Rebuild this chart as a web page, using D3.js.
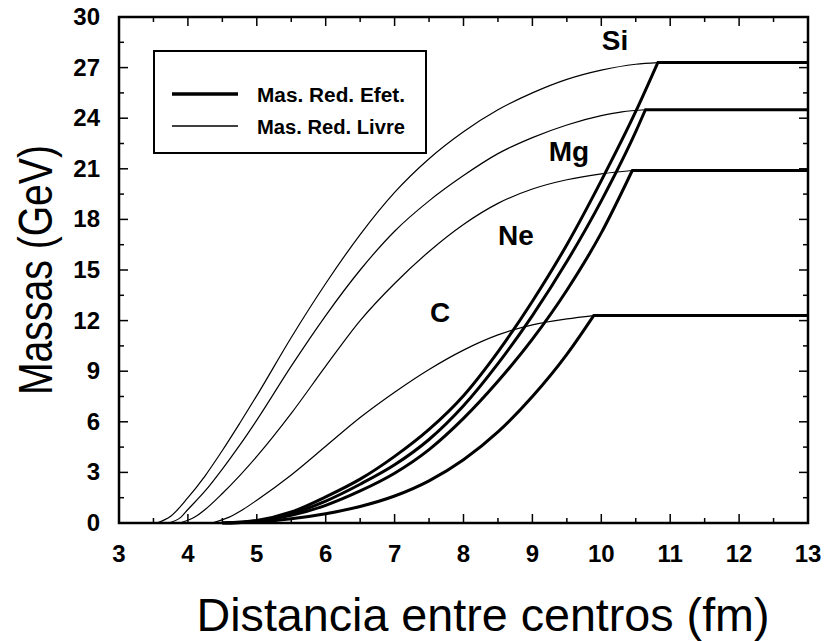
<!DOCTYPE html>
<html>
<head>
<meta charset="utf-8">
<script src="https://d3js.org/d3.v7.min.js"></script>
<style>
  body { margin: 0; background: #fff; }
  text { font-family: "Liberation Sans Narrow", "Liberation Sans", Arial, sans-serif; fill: #000; }
</style>
</head>
<body>
<div id="chart"></div>
<script>
// curve data: [distance (fm), mass (GeV)]
// thin lines: free reduced mass
var siFree = [[3.55,0],[3.75,0.4],[4.0,1.5],[4.25,2.8],[4.5,4.3],[4.75,5.9],[5.0,7.55],[5.5,11.0],[6.0,14.2],[6.5,17.1],[7.0,19.6],[7.5,21.6],[8.0,23.2],[8.5,24.5],[9.0,25.5],[9.5,26.3],[10.0,26.85],[10.5,27.2],[10.82,27.3]];
var mgFree = [[3.72,0],[3.9,0.35],[4.0,0.8],[4.25,1.9],[4.5,3.2],[4.75,4.6],[5.0,6.1],[5.5,9.3],[6.0,12.3],[6.5,15.0],[7.0,17.3],[7.5,19.1],[8.0,20.6],[8.5,21.9],[9.0,22.85],[9.5,23.6],[10.0,24.15],[10.3,24.38],[10.64,24.5]];
var neFree = [[3.88,0],[4.1,0.35],[4.25,0.8],[4.5,1.75],[5.0,3.95],[5.5,6.5],[6.0,9.3],[6.5,12.0],[7.0,14.2],[7.5,16.1],[8.0,17.7],[8.5,18.95],[9.0,19.8],[9.5,20.35],[10.0,20.7],[10.45,20.9]];
var cFree  = [[4.35,0],[4.6,0.35],[4.8,0.8],[5.0,1.35],[5.5,2.85],[6.0,4.55],[6.5,6.25],[7.0,7.75],[7.5,9.1],[8.0,10.25],[8.5,11.15],[9.0,11.75],[9.5,12.1],[9.89,12.3]];

// thick lines: effective reduced mass (flat after the last point)
var siEff = [[4.5,0],[5.0,0.15],[5.5,0.65],[6.0,1.55],[6.5,2.6],[7.0,3.95],[7.5,5.55],[8.0,7.55],[8.5,10.15],[9.0,13.15],[9.5,16.5],[10.0,20.3],[10.5,24.4],[10.82,27.3]];
var mgEff = [[4.55,0],[5.0,0.12],[5.5,0.55],[6.0,1.3],[6.5,2.3],[7.0,3.45],[7.5,4.95],[8.0,6.95],[8.5,9.45],[9.0,12.3],[9.5,15.5],[10.0,19.1],[10.5,23.2],[10.64,24.5]];
var neEff = [[4.6,0],[5.0,0.1],[5.5,0.45],[6.0,1.05],[6.5,1.9],[7.0,2.95],[7.5,4.35],[8.0,6.2],[8.5,8.4],[9.0,10.9],[9.5,13.8],[10.0,17.2],[10.45,20.9]];
var cEff  = [[4.5,0],[5.0,0.06],[5.5,0.25],[6.0,0.55],[6.5,0.98],[7.0,1.6],[7.5,2.5],[8.0,3.75],[8.5,5.4],[9.0,7.5],[9.5,10.0],[9.89,12.3]];

var nuclei = ["Si", "Mg", "Ne", "C"];
var labelPos = [[615,50],[569,161],[516,245],[440,322]];   // label anchors in px
var xTicks = [3,4,5,6,7,8,9,10,11,12,13];
var yTicks = [0,3,6,9,12,15,18,21,24,27,30];
var legendLabels = ["Mas. Red. Efet.", "Mas. Red. Livre"];

var W = 824, H = 641;
var margin = {left: 119, top: 17, right: 16, bottom: 118};

svg = d3.select("#chart").append("svg")
    .attr("width", W).attr("height", H);

var x = d3.scaleLinear().domain([3, 13]).range([margin.left, W - margin.right]);
var y = d3.scaleLinear().domain([0, 30]).range([H - margin.bottom, margin.top]);

var line = d3.line()
    .x(function(d) { return x(d[0]); })
    .y(function(d) { return y(d[1]); })
    .curve(d3.curveMonotoneX);

// thin curves
[siFree, mgFree, neFree, cFree].forEach(function(s) {
    svg.append("path").datum(s)
        .attr("d", line)
        .attr("fill", "none").attr("stroke", "#000").attr("stroke-width", 1.2);
});

// thick curves + flat part out to 13 fm
[siEff, mgEff, neEff, cEff].forEach(function(s) {
    svg.append("path").datum(s)
        .attr("d", line)
        .attr("fill", "none").attr("stroke", "#000").attr("stroke-width", 3);
    var last = s[s.length - 1];
    svg.append("line")
        .attr("x1", x(last[0]) - 1).attr("y1", y(last[1]))
        .attr("x2", x(13)).attr("y2", y(last[1]))
        .attr("stroke", "#000").attr("stroke-width", 3);
});

// frame
svg.append("rect")
    .attr("x", x(3)).attr("y", y(30))
    .attr("width", x(13) - x(3)).attr("height", y(0) - y(30))
    .attr("fill", "none").attr("stroke", "#000").attr("stroke-width", 2.5);

// ticks on all four sides, pointing inward
var xMinor = d3.range(3.5, 13, 1);
var yMinor = d3.range(1.5, 30, 3);
function tickX(vals, len) {
    vals.forEach(function(v) {
        svg.append("line").attr("x1", x(v)).attr("x2", x(v))
            .attr("y1", y(0)).attr("y2", y(0) - len)
            .attr("stroke", "#000").attr("stroke-width", 1.5);
        svg.append("line").attr("x1", x(v)).attr("x2", x(v))
            .attr("y1", y(30)).attr("y2", y(30) + len)
            .attr("stroke", "#000").attr("stroke-width", 1.5);
    });
}
function tickY(vals, len) {
    vals.forEach(function(v) {
        svg.append("line").attr("x1", x(3)).attr("x2", x(3) + len)
            .attr("y1", y(v)).attr("y2", y(v))
            .attr("stroke", "#000").attr("stroke-width", 1.5);
        svg.append("line").attr("x1", x(13)).attr("x2", x(13) - len)
            .attr("y1", y(v)).attr("y2", y(v))
            .attr("stroke", "#000").attr("stroke-width", 1.5);
    });
}
tickX(xTicks, 9); tickX(xMinor, 5);
tickY(yTicks, 9); tickY(yMinor, 5);

// tick labels
svg.selectAll(".xlab").data(xTicks).enter().append("text")
    .attr("class", "xlab")
    .attr("x", function(d) { return x(d); })
    .attr("y", 562)
    .attr("text-anchor", "middle")
    .style("font-size", "24px").style("font-weight", "bold")
    .text(function(d) { return d; });

svg.selectAll(".ylab").data(yTicks).enter().append("text")
    .attr("class", "ylab")
    .attr("x", 100)
    .attr("y", function(d) { return y(d) + 8; })
    .attr("text-anchor", "end")
    .style("font-size", "24px").style("font-weight", "bold")
    .text(function(d) { return d; });

// axis titles
svg.append("text")
    .attr("x", 483).attr("y", 631)
    .attr("text-anchor", "middle")
    .attr("textLength", 573).attr("lengthAdjust", "spacingAndGlyphs")
    .style("font-size", "46px")
    .text("Distancia entre centros (fm)");

svg.append("text")
    .attr("transform", "translate(52,270) rotate(-90)")
    .attr("text-anchor", "middle")
    .attr("textLength", 250).attr("lengthAdjust", "spacingAndGlyphs")
    .style("font-size", "48px")
    .text("Massas (GeV)");

// curve labels
svg.selectAll(".nuc").data(nuclei).enter().append("text")
    .attr("class", "nuc")
    .attr("x", function(d, i) { return labelPos[i][0]; })
    .attr("y", function(d, i) { return labelPos[i][1]; })
    .attr("text-anchor", "middle")
    .style("font-size", "28px").style("font-weight", "bold")
    .text(function(d) { return d; });

// legend
var lg = svg.append("g");
lg.append("rect")
    .attr("x", 154).attr("y", 51).attr("width", 272).attr("height", 102)
    .attr("fill", "#fff").attr("stroke", "#000").attr("stroke-width", 2);
[3.5, 1.3].forEach(function(w, i) {
    lg.append("line")
        .attr("x1", 172).attr("x2", 238)
        .attr("y1", 94 + i * 32).attr("y2", 94 + i * 32)
        .attr("stroke", "#000").attr("stroke-width", w);
    lg.append("text")
        .attr("x", 257).attr("y", 102 + i * 32)
        .attr("textLength", 148).attr("lengthAdjust", "spacingAndGlyphs")
        .style("font-size", "20px").style("font-weight", "bold")
        .text(legendLabels[i]);
});
</script>
</body>
</html>
